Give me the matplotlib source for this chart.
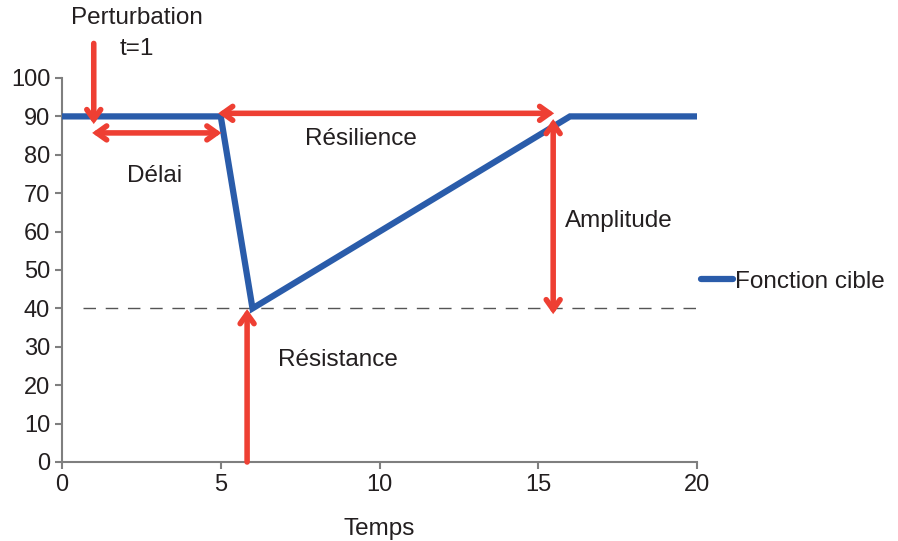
import matplotlib
matplotlib.use("Agg")
import matplotlib.pyplot as plt

# Data
temps = [0, 5, 6, 16, 20]
fonction = [90, 90, 40, 90, 90]
seuil = 40
xticks = [0, 5, 10, 15, 20]
yticks = list(range(0, 101, 10))

plt.rcParams['font.family'] = ['Liberation Sans', 'DejaVu Sans']

fig = plt.figure(figsize=(8.98, 5.41), dpi=100)
ax = fig.add_axes([62/898, 1-462/541, (697-62)/898, (462-78)/541])

blue = '#2A5CAA'
red = '#EE3F33'
gray = '#7f7f7f'
txt = '#231F20'
fs = 17.5

ax.plot(temps, fonction, color=blue, lw=4.5, solid_capstyle='round',
        solid_joinstyle='miter', label='Fonction cible', zorder=3)
ax.plot([0.65, 20], [seuil, seuil], color='#555555', lw=1.0,
        dashes=(9, 7), zorder=2)

ax.set_xlim(0, 20)
ax.set_ylim(0, 100)
ax.set_xticks(xticks)
ax.set_yticks(yticks)
for s in ['top', 'right']:
    ax.spines[s].set_visible(False)
for s in ['left', 'bottom']:
    ax.spines[s].set_color(gray)
    ax.spines[s].set_linewidth(1.5)
ax.tick_params(axis='both', colors=gray, labelcolor=txt, labelsize=17,
               width=1.5, length=5)
ax.set_xlabel('Temps', fontsize=fs, color=txt, labelpad=16)

def arrow(x0, y0, x1, y1, style):
    ax.annotate('', xy=(x1, y1), xytext=(x0, y0),
                arrowprops=dict(arrowstyle=style + ',head_length=0.7,head_width=0.5',
                                color=red, lw=4, shrinkA=0, shrinkB=0,
                                joinstyle='miter'),
                annotation_clip=False, zorder=4)

# Perturbation
arrow(1.0, 109, 1.0, 88, '->')
# Délai
arrow(0.95, 85.7, 5.02, 85.7, '<->')
# Résilience
arrow(4.92, 90.8, 15.5, 90.8, '<->')
# Amplitude
arrow(15.47, 89.3, 15.47, 38.5, '<->')
# Résistance
arrow(5.83, 0, 5.83, 39.8, '->')

for t, x, y, ha in [('Perturbation', 2.37, 115.5, 'center'),
                    ('t=1', 2.37, 107.5, 'center'),
                    ('Délai', 2.9, 74.5, 'center'),
                    ('Résilience', 9.4, 84, 'center'),
                    ('Amplitude', 15.85, 62.8, 'left'),
                    ('Résistance', 6.8, 26.5, 'left')]:
    ax.text(x, y, t, fontsize=fs, color=txt, ha=ha, va='center', clip_on=False)

leg = ax.legend(loc='center left', bbox_to_anchor=(0.972, 0.47), frameon=False,
                fontsize=fs, handlelength=1.3, handletextpad=0.1,
                labelcolor=txt)

fig.savefig('out.png', dpi=100)
